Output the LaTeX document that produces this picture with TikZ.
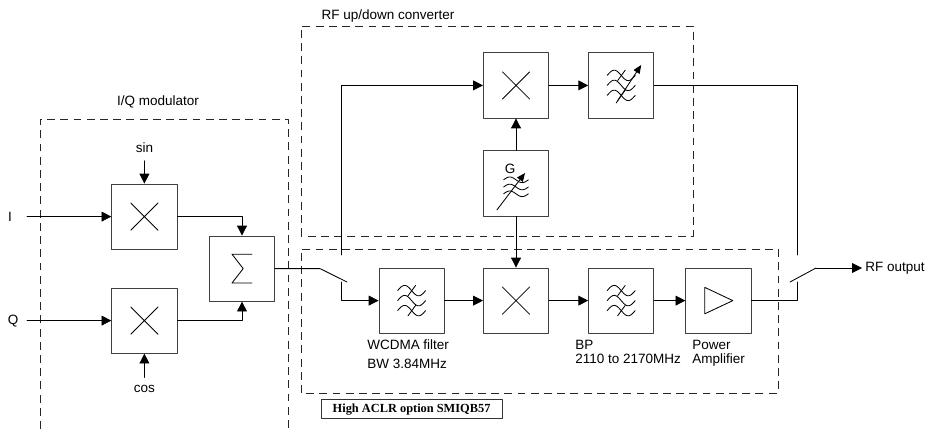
\documentclass[tikz,border=0pt]{standalone}
\usepackage{fontspec}
\setmainfont{Liberation Sans}
\newfontfamily\tagfont{Liberation Serif}
\usetikzlibrary{arrows.meta, calc}

% symbols inside the blocks
\newcommand{\mixsym}[1]{%
  \draw[wire] ($(#1)+(-0.34,-0.34)$) -- ($(#1)+(0.34,0.34)$)
              ($(#1)+(-0.34,0.34)$) -- ($(#1)+(0.34,-0.34)$);}
% one wave: center, y offset, half width, amplitude
\newcommand{\wavesym}[4]{%
  \draw[wire,shift={(#1)}] plot[domain=-#3:#3, samples=40, smooth]
    (\x, {#2 + #4*sin((\x+#3)/(2*#3)*360)});}
\newcommand{\bpsym}[1]{%
  \wavesym{#1}{0.25}{0.35}{0.13}
  \wavesym{#1}{0}{0.35}{0.13}
  \wavesym{#1}{-0.25}{0.35}{0.13}
  \draw[wire,shift={(#1)}] (-0.09,0.12) -- (0.1,0.38) (-0.09,-0.38) -- (0.1,-0.12);}

\begin{document}
\begin{tikzpicture}[line cap=round, line join=round, font=\fontsize{9.6}{10}\selectfont,
  blk/.style={draw=black!75, line width=0.6pt, minimum size=1.63cm, inner sep=0},
  grp/.style={draw=black!85, line width=0.6pt, dash pattern=on 5.6pt off 3.8pt, line cap=butt},
  wire/.style={line width=0.6pt},
  sig/.style={line width=0.6pt, -{Triangle[length=7pt,width=7pt]}},
  tune/.style={line width=0.6pt, -{Triangle[length=6pt,width=5pt]}},
  lbl/.style={anchor=north west, align=left, inner sep=0}]
\useasboundingbox (0,0) rectangle (23.3,10.725);

%========================
% I/Q modulator
%========================
\draw[grp] (1.0,0) -- (1.0,7.75) -- (7.2,7.75) -- (7.2,0);
\node (iqname) at (3.95,8.175) {I/Q modulator};

\node[blk] (mixI) at (3.61,5.31) {};
\node[blk] (mixQ) at (3.61,2.71) {};
\node[blk] (sum) at (6.05,4.01) {};
\mixsym{mixI}
\mixsym{mixQ}
\draw[wire] ($(sum)+(0.25,0.36)$) -- ++(-0.5,0) -- ($(sum)+(0.03,0)$)
  -- ($(sum)+(-0.25,-0.36)$) -- ++(0.5,0);

% inputs and carriers
\node (inI) at (0.25,5.31) {I};
\node (inQ) at (0.33,2.71) {Q};
\coordinate (srcI) at (0.675,5.31);
\coordinate (srcQ) at (0.675,2.71);
\draw[sig] (srcI) -- (mixI.west);
\draw[sig] (srcQ) -- (mixQ.west);
\node[inner sep=0.19cm] (sin) at (3.61,7.025) {sin};
\node[inner sep=0.19cm] (cos) at (3.61,1.0) {cos};
\draw[sig] (sin.south) -- (mixI.north);
\draw[sig] (cos.north) -- (mixQ.south);
\draw[sig] (mixI.east) -| (sum.north);
\draw[sig] (mixQ.east) -| (sum.south);

%========================
% RF up/down converter
%========================
\draw[grp] (7.525,4.825) rectangle (17.325,10.075);
\node (rfname) at (9.7,10.325) {RF up/down converter};

\node[blk] (upmix) at (12.9,8.59) {};
\node[blk] (tfilt) at (15.53,8.59) {};
\node[blk] (osc) at (12.9,6.14) {};
\mixsym{upmix}
\begin{scope}[shift={(0,-0.05)}]
\bpsym{tfilt}
\end{scope}
\draw[tune] ($(tfilt)+(-0.125,-0.44)$) -- ($(tfilt)+(0.5,0.51)$);
% oscillator
\wavesym{osc}{0.09}{0.31}{0.07}
\wavesym{osc}{-0.09}{0.31}{0.07}
\wavesym{osc}{-0.26}{0.31}{0.07}
\draw[tune] ($(osc)+(-0.475,-0.66)$) -- ($(osc)+(0.225,0.26)$);
\node[inner sep=0] (gname) at ($(osc)+(-0.15,0.36)$) {G};

\draw[sig] (upmix.east) -- (tfilt.west);
\draw[sig] (osc.north) -- (upmix.south);

%========================
% High ACLR option
%========================
\draw[grp] (7.525,0.9) rectangle (19.45,4.5);
\node[draw=black!80, line width=0.6pt, minimum width=4.525cm, minimum height=0.475cm, inner sep=0,
  font=\tagfont\bfseries\fontsize{8.8}{10}\selectfont] (aclr) at (10.29,0.49) {High ACLR option SMIQB57};

\node[blk] (wfilt) at (10.29,3.21) {};
\node[blk] (dnmix) at (12.9,3.21) {};
\node[blk] (bp) at (15.53,3.21) {};
\node[blk] (pa) at (17.96,3.21) {};
\bpsym{wfilt}
\mixsym{dnmix}
\bpsym{bp}
\draw[wire] ($(pa)+(-0.34,0.33)$) -- ($(pa)+(-0.34,-0.33)$) -- ($(pa)+(0.36,0)$) -- cycle;

\node[lbl] (wname) at (9.175,2.25) {WCDMA filter\\[3.5pt]BW 3.84MHz};
\node[lbl] (bpname) at (14.375,2.225) {BP\\2110 to 2170MHz};
\node[lbl] (paname) at (17.3,2.225) {Power\\Amplifier};

\draw[sig] (wfilt.east) -- (dnmix.west);
\draw[sig] (dnmix.east) -- (bp.west);
\draw[sig] (bp.east) -- (pa.west);
\draw[sig] (osc.south) -- (dnmix.north);

%========================
% bypass switches
%========================
\coordinate (swIn) at (8.0,4.01);
\coordinate (swUp) at (8.525,4.35);
\coordinate (swDn) at (8.525,3.675);
\draw[wire] (sum.east) -- (swIn) -- (8.675,3.675);
\draw[sig] (swUp) |- (upmix.west);
\draw[sig] (swDn) |- (wfilt.west);

\coordinate (outUp) at (19.925,4.35);
\coordinate (outDn) at (19.925,3.675);
\coordinate (outCom) at (20.4,4.025);
\draw[wire] (tfilt.east) -| (outUp);
\draw[wire] (pa.east) -| (outDn);
\draw[wire] (19.75,3.675) -- (outCom);
\node[anchor=west, inner sep=0.075cm] (rfout) at (21.55,4.025) {RF output};
\draw[sig] (outCom) -- (rfout.west);
\end{tikzpicture}
\end{document}
